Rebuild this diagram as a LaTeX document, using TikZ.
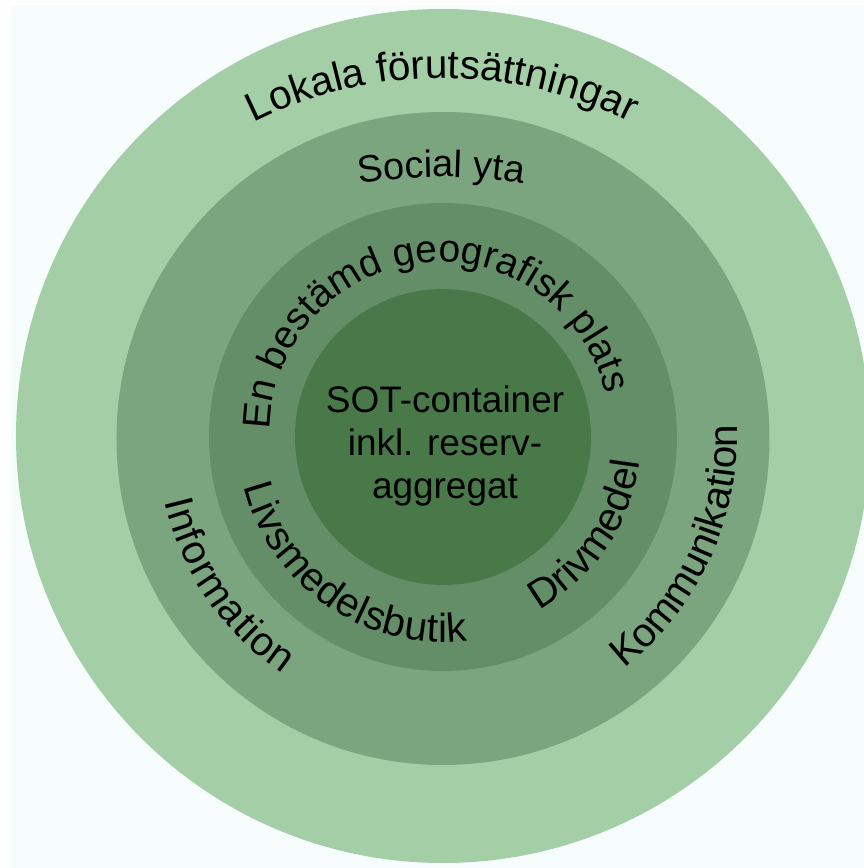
\documentclass[tikz,border=0pt]{standalone}
\usepackage{fontspec}
\setmainfont{Liberation Sans}
\usetikzlibrary{decorations.text}
\definecolor{bgcyan}{RGB}{247,253,253}
\definecolor{ringA}{RGB}{164,206,166}
\definecolor{ringB}{RGB}{123,165,127}
\definecolor{ringC}{RGB}{100,142,103}
\definecolor{ringD}{RGB}{73,121,73}
\newcommand\lblfont{\fontsize{16pt}{19pt}\selectfont}
\newcommand\geofont{\fontsize{15.4pt}{18pt}\selectfont}
\newcommand\socfont{\fontsize{15pt}{18pt}\selectfont}

\begin{document}
\begin{tikzpicture}[x=0.013889cm, y=0.013889cm,
  ring/.style={fill=#1, draw=none},
  arc label/.style={decorate, decoration={text along path, text align=fit to path, text={#1}}},
  mid label/.style={decorate, decoration={text along path, text align=center, text={#1}}}]
\useasboundingbox (-443,-431) rectangle (421,437);
\fill[white] (-443,-431) rectangle (421,437);
\fill[bgcyan] (-432,-431) rectangle (421,432);

% rings, outside in
\fill[ring=ringA] (0,1) circle[radius=427];
\fill[ring=ringB] (0,-1.5) circle[radius=326.5];
\fill[ring=ringC] (0,0) circle[radius=234];
\fill[ring=ringD] (0,0) circle[radius=148];

\node[align=center, font=\fontsize{14.6pt}{17pt}\selectfont] (core) at (2,-8.5) {SOT-container\\inkl. reserv-\\aggregat};

\coordinate (c0) at (0,0);
\coordinate (lokc) at (-1,-61);
\coordinate (socc) at (-2,-240);
\coordinate (geoc) at (-3,5);

% upper labels, clockwise
\path[arc label=|\lblfont|Lokala förutsättningar] ([shift={(116.6:420)}]lokc) arc[start angle=116.6, end angle=63.4, radius=420];
\path[mid label=|\socfont|Social yta] ([shift={(110:500)}]socc) arc[start angle=110, end angle=70, radius=500];
\path[arc label=|\geofont|En bestämd geografisk plats] ([shift={(179.3:170)}]geoc) arc[start angle=179.3, end angle=13, radius=170];

% lower labels, counterclockwise
\path[arc label=|\lblfont|Livsmedelsbutik] ([shift={(194:205)}]c0) arc[start angle=194, end angle=277, radius=205];
\path[arc label=|\lblfont|Drivmedel] ([shift={(299:198)}]c0) arc[start angle=299, end angle=353, radius=198];
\path[arc label=|\lblfont|Information] ([shift={(193:286)}]c0) arc[start angle=193, end angle=236, radius=286];
\path[arc label=|\lblfont|Kommunikation] ([shift={(308:294)}]c0) arc[start angle=308, end angle=361, radius=294];
\end{tikzpicture}
\end{document}
